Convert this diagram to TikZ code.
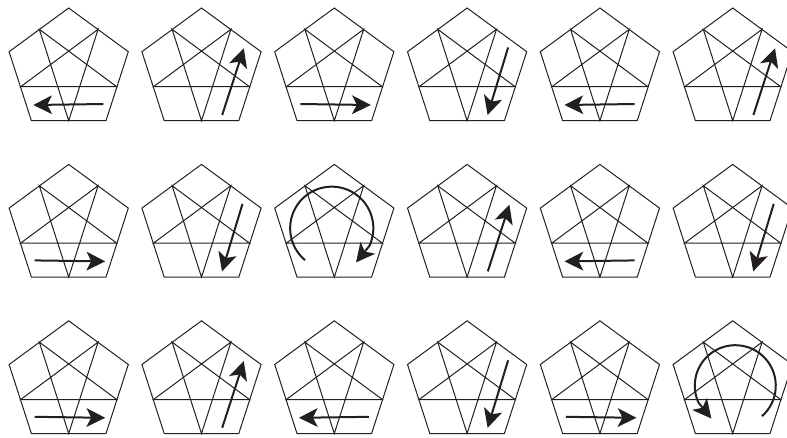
\documentclass[tikz,border=0pt]{standalone}
\usetikzlibrary{arrows.meta}
\definecolor{ink}{HTML}{231F20}
\tikzset{
  x=0.75pt,y=-0.75pt,
  edgeline/.style={draw=ink,line width=0.75pt,line join=miter},
  flowarrow/.style={draw=ink,line width=1.5pt,line join=round,-{Stealth[length=14pt,width=14pt,inset=3.5pt,color=ink]}},
  pics/penta/.style={code={
    \draw[edgeline] (0,0)--(59.6,43.7)--(37.3,112.7)--(-37.3,112.7)--(-59.6,43.7)--cycle;
    \draw[edgeline] (-29.4,21.3)--(0,112.7)--(29.4,21.3)--(-48,78.7)--(48,78.7)--cycle;
  }},
  pics/goleft/.style={code={\draw[flowarrow] (34.6,96)--(-35.4,97);}},
  pics/goright/.style={code={\draw[flowarrow] (-34,96)--(36.5,97);}},
  pics/goup/.style={code={\draw[flowarrow] (20.7,107)--(42.3,40.3);}},
  pics/godown/.style={code={\draw[flowarrow] (41,39.5)--(20.5,107);}},
  pics/gocw/.style={code={\draw[flowarrow] (-29.3,95.7) arc[start angle=130,end angle=385,radius=41.6] -- (21.7,98);}},
  pics/goccw/.style={code={\draw[flowarrow] (29.3,95.3) arc[start angle=48.7,end angle=-205,radius=40.5] -- (-21.3,97.7);}}
}
\begin{document}
\begin{tikzpicture}
\path[use as bounding box] (0,0) rectangle (787,437);
\clip (0,0) rectangle (787,437);
\foreach \r/\names in {0/{goleft,goup,goright,godown,goleft,goup},1/{goright,godown,gocw,goup,goleft,godown},2/{goright,goup,goleft,godown,goright,goccw}}{
  \foreach \n [count=\c from 0] in \names {
    \pgfmathsetmacro{\px}{68.7+132.8*\c}
    \pgfmathsetmacro{\py}{8+156.4*\r}
    \pic at (\px,\py) {penta};
    \pic at (\px,\py) {\n};
  }
}
\end{tikzpicture}
\end{document}
